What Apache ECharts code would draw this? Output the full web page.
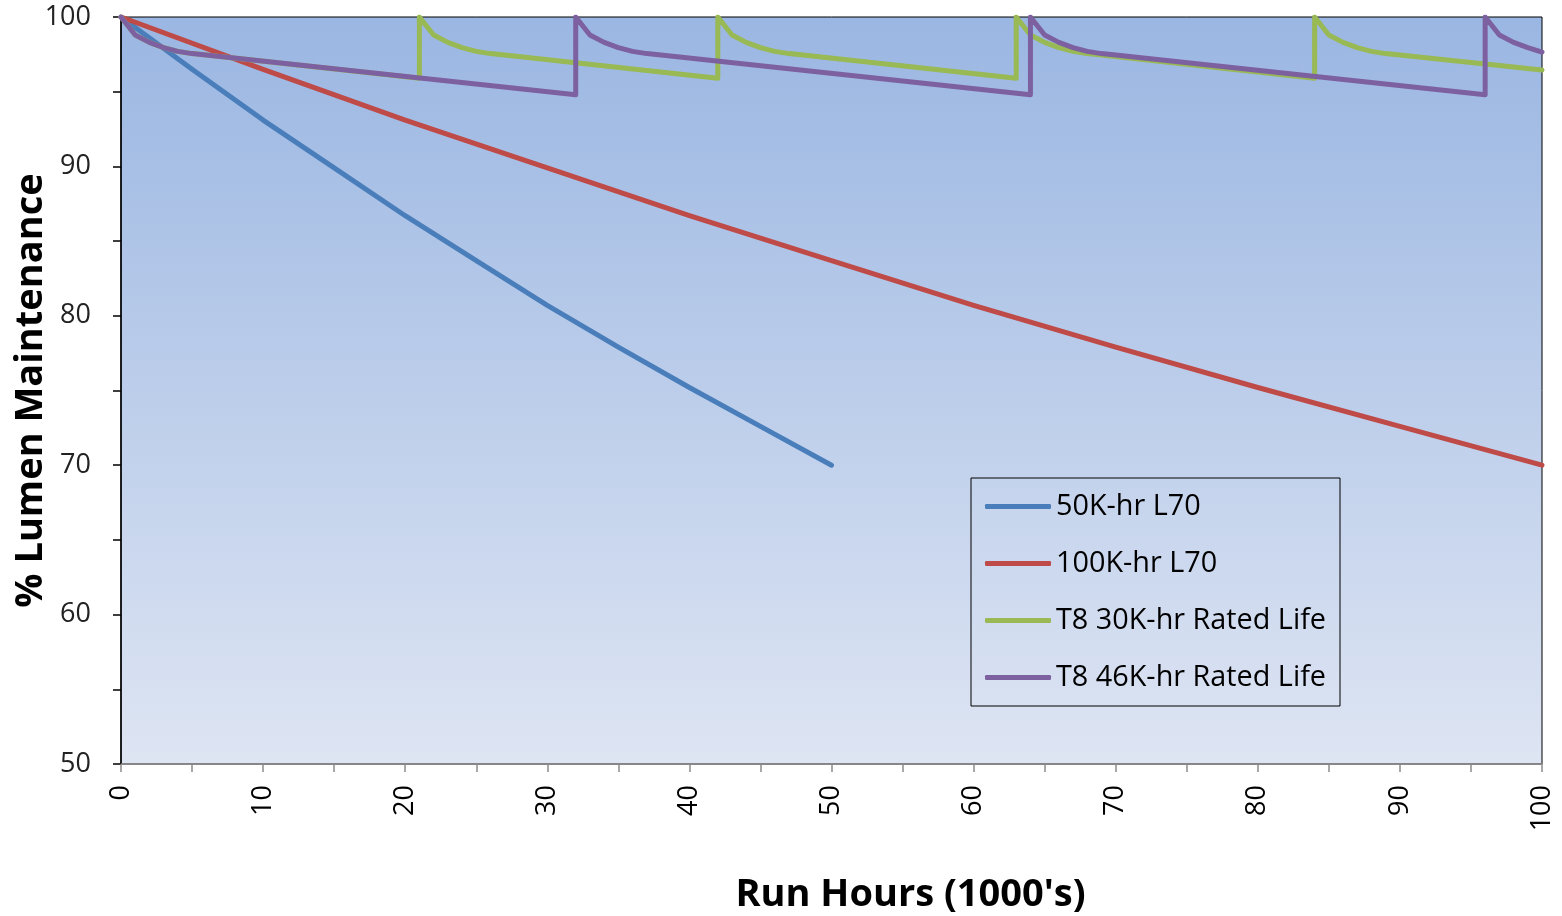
<!DOCTYPE html>
<html>
<head>
<meta charset="utf-8">
<script src="https://cdn.jsdelivr.net/npm/echarts@6/dist/echarts.min.js"></script>
<style>html,body{margin:0;padding:0;background:#fff;}#c{width:1562px;height:916px;}</style>
</head>
<body>
<div id="c"></div>
<script>
const seriesNames = ['50K-hr L70', '100K-hr L70', 'T8 30K-hr Rated Life', 'T8 46K-hr Rated Life'];
const xTickLabels = [0, 10, 20, 30, 40, 50, 60, 70, 80, 90, 100];
const yTickLabels = [50, 60, 70, 80, 90, 100];

const blueX = [0, 5, 10, 15, 20, 25, 30, 35, 40, 45, 50];
const blueY = [100, 96.5, 93.1, 89.9, 86.7, 83.7, 80.7, 77.9, 75.2, 72.6, 70];

const redX = [0, 10, 20, 30, 40, 50, 60, 70, 80, 90, 100];
const redY = [100, 96.5, 93.1, 89.9, 86.7, 83.7, 80.7, 77.9, 75.2, 72.6, 70];

const greenX = [0, 1, 2, 3, 4, 5, 6, 21,
                21, 22, 23, 24, 25, 26, 27, 42,
                42, 43, 44, 45, 46, 47, 48, 63,
                63, 64, 65, 66, 67, 68, 69, 84,
                84, 85, 86, 87, 88, 89, 90, 100];
const greenY = [100, 98.8, 98.3, 97.95, 97.7, 97.55, 97.45, 95.9,
                100, 98.8, 98.3, 97.95, 97.7, 97.55, 97.45, 95.9,
                100, 98.8, 98.3, 97.95, 97.7, 97.55, 97.45, 95.9,
                100, 98.8, 98.3, 97.95, 97.7, 97.55, 97.45, 95.9,
                100, 98.8, 98.3, 97.95, 97.7, 97.55, 97.45, 96.45];

const purpleX = [0, 1, 2, 3, 4, 5, 6, 32,
                 32, 33, 34, 35, 36, 37, 38, 64,
                 64, 65, 66, 67, 68, 69, 70, 96,
                 96, 97, 98, 99, 100];
const purpleY = [100, 98.8, 98.3, 97.95, 97.7, 97.55, 97.45, 94.8,
                 100, 98.8, 98.3, 97.95, 97.7, 97.55, 97.45, 94.8,
                 100, 98.8, 98.3, 97.95, 97.7, 97.55, 97.45, 94.8,
                 100, 98.8, 98.3, 97.95, 97.65];

const colors = ['#4A7EBB', '#BE4B48', '#98B954', '#7D60A0'];

function zip(xs, ys) { return xs.map((x, i) => [x, ys[i]]); }

const FONT = 'Open Sans';
const chart = echarts.init(document.getElementById('c'), null, {renderer: 'canvas'});

const seriesData = [zip(blueX, blueY), zip(redX, redY), zip(greenX, greenY), zip(purpleX, purpleY)];

chart.setOption({
  animation: false,
  backgroundColor: '#ffffff',
  color: colors,
  textStyle: {fontFamily: FONT},
  grid: {
    left: 121, right: 20, top: 17, bottom: 152,
    containLabel: false,
    outerBoundsMode: 'none',
    show: true,
    borderColor: '#000', borderWidth: 1,
    backgroundColor: {
      type: 'linear', x: 0, y: 0, x2: 0, y2: 1,
      colorStops: [{offset: 0, color: '#9AB6E2'}, {offset: 1, color: '#DEE5F3'}]
    }
  },
  legend: {
    orient: 'vertical',
    left: 971, top: 478,
    padding: [14, 14, 14, 14],
    borderColor: '#000', borderWidth: 1,
    backgroundColor: 'transparent',
    icon: 'roundRect',
    itemWidth: 66, itemHeight: 5,
    itemGap: 28,
    textStyle: {fontFamily: FONT, fontSize: 28.8, color: '#000', lineHeight: 28},
    data: seriesNames
  },
  xAxis: {
    type: 'value', min: 0, max: 100, interval: 5,
    name: "Run Hours (1000's)", nameLocation: 'middle', nameGap: 112,
    nameMoveOverlap: false,
    nameTextStyle: {fontFamily: FONT, fontSize: 38, fontWeight: 'bold', color: '#000', padding: [0, 0, 0, 158]},
    axisLine: {show: true, lineStyle: {color: '#8C8C8C', width: 1.5}},
    axisTick: {show: true, inside: false, length: 8, lineStyle: {color: '#8C8C8C', width: 1.5}},
    splitLine: {show: false},
    axisLabel: {
      rotate: 90, margin: 21, fontSize: 27, color: '#000', fontFamily: FONT,
      formatter: v => (xTickLabels.indexOf(v) >= 0 ? String(v) : '')
    }
  },
  yAxis: {
    type: 'value', min: 50, max: 100, interval: 5,
    name: '% Lumen Maintenance', nameLocation: 'middle', nameGap: 71, nameRotate: 90,
    nameMoveOverlap: false,
    nameTextStyle: {fontFamily: FONT, fontSize: 38, fontWeight: 'bold', color: '#000'},
    axisLine: {show: true, lineStyle: {color: '#000', width: 1.5}},
    axisTick: {show: true, inside: false, length: 8, lineStyle: {color: '#000', width: 1.5}},
    splitLine: {show: false},
    axisLabel: {
      margin: 30, fontSize: 27, color: '#222', fontFamily: FONT,
      formatter: v => (yTickLabels.indexOf(v) >= 0 ? String(v) : '')
    }
  },
  series: seriesNames.map((n, i) => ({
    name: n, type: 'line', data: seriesData[i],
    showSymbol: false, symbol: 'none',
    lineStyle: {width: 5, color: colors[i], cap: 'round', join: 'round'},
    itemStyle: {color: colors[i]},
    clip: true
  }))
});
</script>
</body>
</html>
